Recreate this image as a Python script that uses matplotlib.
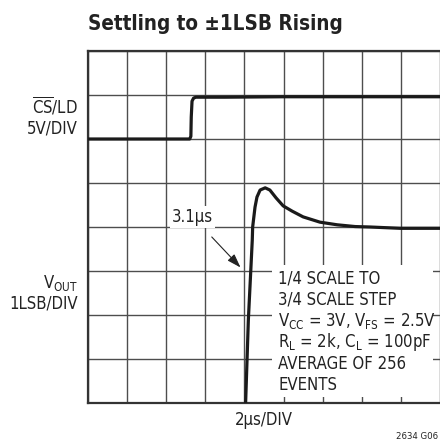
import matplotlib
matplotlib.use("Agg")
import matplotlib.pyplot as plt
from matplotlib.patches import Rectangle

# Fuente estrecha parecida a Helvetica Condensed
plt.rcParams['font.family'] = ['DejaVu Sans']
plt.rcParams['font.stretch'] = 'condensed'
plt.rcParams['mathtext.default'] = 'regular'

# Datos (tiempo en divisiones de 2us, nivel en divisiones)
cs_t = [0.0, 2.60, 2.63, 2.64, 2.66, 2.70, 2.76, 3.5, 5.0, 7.0, 9.0]
cs_level = [6.0, 6.0, 6.06, 6.5, 6.86, 6.93, 6.95, 6.95, 6.96, 6.96, 6.96]

vout_t = [4.03, 4.10, 4.20, 4.21, 4.27, 4.32, 4.40, 4.53, 4.65, 4.81, 4.99,
          5.22, 5.50, 5.93, 6.37, 6.83, 7.21, 7.98, 9.0]
vout_level = [0.0, 1.89, 3.70, 4.0, 4.45, 4.68, 4.84, 4.89, 4.84, 4.66, 4.48,
              4.36, 4.23, 4.11, 4.05, 4.01, 4.0, 3.97, 3.97]

n_xdiv = 9
n_ydiv = 8

note_lines = [
    "1/4 SCALE TO",
    "3/4 SCALE STEP",
    r"V$_{CC}$ = 3V, V$_{FS}$ = 2.5V",
    r"R$_{L}$ = 2k, C$_{L}$ = 100pF",
    "AVERAGE OF 256",
    "EVENTS",
]

fs = 12
txt_color = '#222222'

fig = plt.figure(figsize=(4.40, 4.45), dpi=100)
ax = fig.add_axes([0.2, 0.0944, 0.8, 0.791])

ax.set_xlim(0, n_xdiv)
ax.set_ylim(0, n_ydiv)
ax.set_xticks(range(n_xdiv + 1))
ax.set_yticks(range(n_ydiv + 1))
ax.tick_params(length=0, labelbottom=False, labelleft=False)
ax.set_axisbelow(True)
ax.grid(True, color='#4d4d4d', linewidth=1.0)
for side in ['left', 'bottom', 'top']:
    ax.spines[side].set_linewidth(1.6)
    ax.spines[side].set_color('#333333')
ax.spines['right'].set_visible(False)

# Caja blanca detras de las notas
ax.add_patch(Rectangle((4.70, 0.14), 4.12, 3.0, facecolor='white',
                       edgecolor='none', zorder=1.5))

# Trazas
ax.plot(cs_t, cs_level, color='#1a1a1a', linewidth=2.3, zorder=3,
        solid_joinstyle='round')
ax.plot(vout_t, vout_level, color='#1a1a1a', linewidth=2.3, zorder=3,
        solid_joinstyle='round')

# Anotacion 3.1us
ax.annotate("3.1\u00b5s", xy=(3.90, 3.08), xytext=(2.68, 4.23),
            ha='center', va='center', fontsize=fs, color=txt_color,
            bbox=dict(facecolor='white', edgecolor='none', pad=1.5),
            arrowprops=dict(arrowstyle='-|>,head_length=0.6,head_width=0.2',
                            color=txt_color, lw=0.8,
                            shrinkA=9, shrinkB=0, mutation_scale=14),
            zorder=4)

# Notas
for i, line in enumerate(note_lines):
    ax.text(4.86, 2.84 - i * 0.486, line, ha='left', va='center',
            fontsize=fs, color=txt_color, zorder=4)

# Etiquetas de la izquierda
ax.text(-0.26, 6.73, r"$\overline{CS}$/LD", ha='right', va='center',
        fontsize=fs, color=txt_color, clip_on=False)
ax.text(-0.26, 6.23, "5V/DIV", ha='right', va='center',
        fontsize=fs, color=txt_color, clip_on=False)
ax.text(-0.26, 2.73, r"V$_{OUT}$", ha='right', va='center',
        fontsize=fs, color=txt_color, clip_on=False)
ax.text(-0.26, 2.27, "1LSB/DIV", ha='right', va='center',
        fontsize=fs, color=txt_color, clip_on=False)

ax.text(4.5, -0.39, "2\u00b5s/DIV", ha='center', va='center',
        fontsize=fs, color=txt_color, clip_on=False)

fig.text(0.2, 0.946, "Settling to \u00b11LSB Rising", ha='left', va='center',
         fontsize=14.8, fontweight='bold', color=txt_color)
fig.text(0.995, 0.018, "2634 G06", ha='right', va='center',
         fontsize=6.8, color=txt_color)

fig.savefig("out.png", dpi=100)
